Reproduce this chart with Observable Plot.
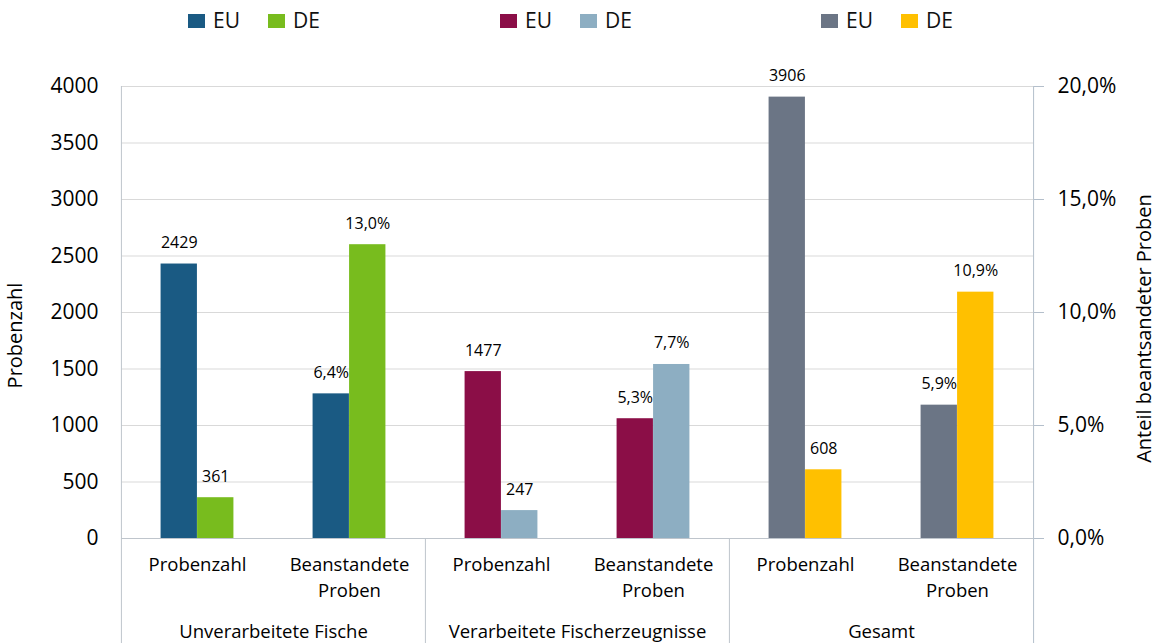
<!DOCTYPE html>
<html>
<head>
<meta charset="utf-8">
<script src="https://cdn.jsdelivr.net/npm/d3@7"></script>
<script src="https://cdn.jsdelivr.net/npm/@observablehq/plot@0.6"></script>
<style>
  body { margin: 0; background: #fff; font-family: "Open Sans", sans-serif; }
  #wrap { position: relative; width: 1157px; height: 643px; overflow: hidden; }
  #legend { position: absolute; top: 0; left: 0; width: 1157px; height: 40px; }
  .lg { position: absolute; top: 10px; height: 21px; line-height: 21px; display: flex; align-items: center; font-size: 21px; color: #111; }
  .sw { width: 17px; height: 14px; display: inline-block; margin-right: 8px; }
  .gap { width: 28px; display: inline-block; }
  #chart { position: absolute; top: 0; left: 0; }
</style>
</head>
<body>
<div id="wrap">
  <div id="chart"></div>
  <div id="legend"></div>
</div>
<script>
// ---- data ----
const groups = ["Unverarbeitete Fische", "Verarbeitete Fischerzeugnisse", "Gesamt"];
const subcategories = ["Probenzahl", "Beanstandete Proben"];
const subcategoryLabels = ["Probenzahl", "Beanstandete\nProben"];
const series = ["EU", "DE"];
const probenzahlEU = [2429, 1477, 3906];
const probenzahlDE = [361, 247, 608];
const anteilEU = [6.4, 5.3, 5.9];     // % beanstandete Proben
const anteilDE = [13.0, 7.7, 10.9];
const colorsEU = ["#1a5a83", "#8b0e47", "#6b7585"];
const colorsDE = ["#78bc1e", "#8daec2", "#ffc000"];
const countTicks = [0, 500, 1000, 1500, 2000, 2500, 3000, 3500, 4000];
const percentTicks = [0, 5, 10, 15, 20];
const percentTickLabels = ["0,0%", "5,0%", "10,0%", "15,0%", "20,0%"];
const countMax = 4000;
const percentMax = 20;

// ---- table ----
const toCount = p => p * countMax / percentMax;  // secondary axis → primary scale
const fmtPct = p => p.toFixed(1).replace(".", ",") + "%";
const rows = [];
groups.forEach((g, i) => {
  rows.push({group: g, sub: subcategories[0], series: "EU", value: probenzahlEU[i], label: String(probenzahlEU[i]), color: colorsEU[i]});
  rows.push({group: g, sub: subcategories[0], series: "DE", value: probenzahlDE[i], label: String(probenzahlDE[i]), color: colorsDE[i]});
  rows.push({group: g, sub: subcategories[1], series: "EU", value: toCount(anteilEU[i]), label: fmtPct(anteilEU[i]), color: colorsEU[i]});
  rows.push({group: g, sub: subcategories[1], series: "DE", value: toCount(anteilDE[i]), label: fmtPct(anteilDE[i]), color: colorsDE[i]});
});
const eu = rows.filter(d => d.series === "EU");
const de = rows.filter(d => d.series === "DE");
const percentTickPositions = percentTicks.map(toCount);

const W = 1157, H = 643;
const mL = 120, mR = 124, mT = 86, mB = 105;
const facetW = (W - mL - mR) / groups.length;
const bandW = facetW / subcategories.length;
const barW = 36.5;
const lineColor = "#bfc5cc";
const axisColor = "#b4bfcb";
const firstSub = () => subcategories[0];
const lastSub = () => subcategories[subcategories.length - 1];

const chart = Plot.plot({
  width: W, height: H,
  marginTop: mT, marginBottom: mB, marginLeft: mL, marginRight: mR,
  style: {fontFamily: '"Open Sans", sans-serif', color: "#000", background: "transparent", overflow: "visible"},
  fx: {domain: groups, padding: 0, label: null},
  x: {domain: subcategories, padding: 0, label: null},
  y: {domain: [0, countMax], label: null},
  color: {type: "identity"},
  marks: [
    Plot.gridY(countTicks, {stroke: "#d9d9d9", strokeOpacity: 1}),
    Plot.ruleY([0], {stroke: lineColor}),
    Plot.barY(eu, {fx: "group", x: "sub", y: "value", fill: "color", insetLeft: bandW / 2 - barW, insetRight: bandW / 2}),
    Plot.barY(de, {fx: "group", x: "sub", y: "value", fill: "color", insetLeft: bandW / 2, insetRight: bandW / 2 - barW}),
    Plot.text(eu, {fx: "group", x: "sub", y: "value", text: "label", lineAnchor: "bottom", dy: -16, dx: -barW / 2, fontSize: 16, fill: "#000"}),
    Plot.text(de, {fx: "group", x: "sub", y: "value", text: "label", lineAnchor: "bottom", dy: -16, dx: barW / 2, fontSize: 16, fill: "#000"}),
    // left axis line (full height, into bottom margin)
    Plot.ruleX([groups[0]], {fx: d => d, x: firstSub, dx: -bandW / 2, insetBottom: -mB, stroke: lineColor}),
    // group separators below the axis
    Plot.ruleX(groups.slice(1), {fx: d => d, x: firstSub, y1: 0, dx: -bandW / 2, insetBottom: -mB, stroke: lineColor}),
    // right axis line
    Plot.ruleX([groups[groups.length - 1]], {fx: d => d, x: lastSub, dx: bandW / 2, insetBottom: -mB, stroke: axisColor}),
    Plot.axisY(countTicks, {anchor: "left", tickSize: 0, tickPadding: 23, fontSize: 21, label: null, fill: "#000", tickFormat: d => String(d)}),
    Plot.axisY(percentTickPositions, {anchor: "right", tickSize: 10, tickPadding: 14, fontSize: 21, label: null,
      stroke: axisColor, fill: "#000", tickFormat: d => percentTickLabels[percentTickPositions.indexOf(d)]}),
    Plot.axisX({anchor: "bottom", tickSize: 0, tickPadding: 14, fontSize: 18.5, lineHeight: 1.4, label: null, fill: "#000",
      tickFormat: d => subcategoryLabels[subcategories.indexOf(d)]}),
    Plot.axisFx({anchor: "bottom", tickSize: 0, tickPadding: 86, fontSize: 18.5, label: null, fill: "#000"}),
    Plot.text(["Probenzahl"], {fx: () => groups[0], text: d => d, frameAnchor: "left", textAnchor: "middle", rotate: -90, dx: -106, dy: 23, fontSize: 20, fill: "#000"}),
    Plot.text(["Anteil beantsandeter Proben"], {fx: () => groups[2], text: d => d, frameAnchor: "right", textAnchor: "middle", rotate: -90, dx: 111, dy: 16, fontSize: 20, fill: "#000"})
  ]
});
document.getElementById("chart").appendChild(chart);

// ---- legend (HTML, above the chart) ----
const legendLefts = [188, 500, 821];
const legend = document.getElementById("legend");
groups.forEach((g, i) => {
  const div = document.createElement("div");
  div.className = "lg";
  div.style.left = legendLefts[i] + "px";
  const cols = [colorsEU[i], colorsDE[i]];
  series.forEach((s, j) => {
    if (j > 0) { const gp = document.createElement("span"); gp.className = "gap"; div.appendChild(gp); }
    const sw = document.createElement("span");
    sw.className = "sw";
    sw.style.background = cols[j];
    div.appendChild(sw);
    const t = document.createElement("span");
    t.textContent = s;
    div.appendChild(t);
  });
  legend.appendChild(div);
});
</script>
</body>
</html>
